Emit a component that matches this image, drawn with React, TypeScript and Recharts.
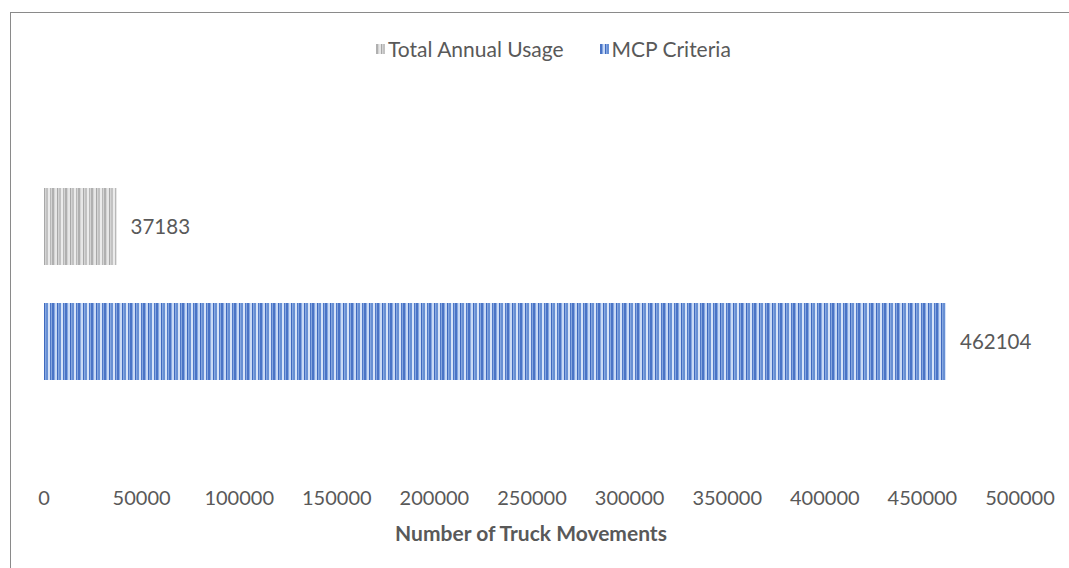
import { BarChart, Bar, XAxis, YAxis, LabelList } from "recharts"

const categories = ["Truck Movements"]
const totalAnnualUsage = [37183]
const mcpCriteria = [462104]
const xTicks = [0, 50000, 100000, 150000, 200000, 250000, 300000, 350000, 400000, 450000, 500000]
const seriesNames = ["Total Annual Usage", "MCP Criteria"]
const seriesFills = ["url(#grayStripes)", "url(#blueStripes)"]

const data = categories.map((name, i) => ({
  name,
  usage: totalAnnualUsage[i],
  mcp: mcpCriteria[i],
}))

const FONT = "Lato, 'Open Sans', sans-serif"
const TEXT = "#595959"

function Patterns() {
  return (
    <svg width={0} height={0} style={{ position: "absolute" }}>
      <defs>
        <pattern id="grayStripes" width={13} height={10} patternUnits="userSpaceOnUse">
          <rect x={0} y={0} width={13} height={10} fill="#d4d4d4" />
          <rect x={0} y={0} width={2} height={10} fill="#b0b0b0" />
          <rect x={3} y={0} width={2} height={10} fill="#e6e6e6" />
          <rect x={5} y={0} width={1} height={10} fill="#a8a8a8" />
          <rect x={7} y={0} width={2} height={10} fill="#c2c2c2" />
          <rect x={9} y={0} width={2} height={10} fill="#ebebeb" />
          <rect x={11} y={0} width={1} height={10} fill="#b8b8b8" />
        </pattern>
        <pattern id="blueStripes" width={13} height={10} patternUnits="userSpaceOnUse">
          <rect x={0} y={0} width={13} height={10} fill="#86a7e0" />
          <rect x={0} y={0} width={2} height={10} fill="#4a74c6" />
          <rect x={3} y={0} width={2} height={10} fill="#c8d9f5" />
          <rect x={5} y={0} width={1} height={10} fill="#3f6abf" />
          <rect x={7} y={0} width={2} height={10} fill="#6890d4" />
          <rect x={9} y={0} width={2} height={10} fill="#d6e3f8" />
          <rect x={11} y={0} width={1} height={10} fill="#4f78c8" />
        </pattern>
      </defs>
    </svg>
  )
}

function TopLegend() {
  return (
    <div
      style={{
        position: "absolute",
        left: 376,
        top: 36,
        display: "flex",
        alignItems: "center",
        fontSize: 21,
        color: TEXT,
        whiteSpace: "nowrap",
      }}
    >
      {seriesNames.map((n, i) => (
        <div key={n} style={{ display: "flex", alignItems: "center", marginRight: i === 0 ? 36 : 0 }}>
          <svg width={9} height={10} style={{ marginRight: 3 }}>
            <rect x={0} y={0} width={9} height={10} fill={seriesFills[i]} />
          </svg>
          <span>{n}</span>
        </div>
      ))}
    </div>
  )
}

export default function App() {
  return (
    <div style={{ position: "absolute", left: 0, top: 0, width: 1069, height: 568, background: "#fff", overflow: "hidden", fontFamily: FONT }}>
      <Patterns />
      <div
        style={{
          position: "absolute",
          left: 10,
          top: 12,
          width: 1100,
          height: 600,
          border: "1.5px solid #8a8a8a",
          boxSizing: "border-box",
        }}
      />
      <div style={{ position: "absolute", left: 0, top: 0 }}>
        <BarChart
          width={1069}
          height={568}
          data={data}
          layout="vertical"
          margin={{ top: 100, right: 49, left: 44, bottom: 70 }}
          barSize={77}
          barGap={38}
        >
          <XAxis
            type="number"
            domain={[0, 500000]}
            ticks={xTicks}
            interval={0}
            axisLine={false}
            tickLine={false}
            tickSize={0}
            tickMargin={23}
            height={30}
            tick={{ fontSize: 20, fill: TEXT, fontFamily: FONT }}
          />
          <YAxis type="category" dataKey="name" hide />
          <Bar dataKey="usage" name={seriesNames[0]} fill={seriesFills[0]} isAnimationActive={false}>
            <LabelList dataKey="usage" position="right" offset={14} fill={TEXT} fontSize={20.5} fontFamily={FONT} />
          </Bar>
          <Bar dataKey="mcp" name={seriesNames[1]} fill={seriesFills[1]} isAnimationActive={false}>
            <LabelList dataKey="mcp" position="right" offset={14} fill={TEXT} fontSize={20.5} fontFamily={FONT} />
          </Bar>
        </BarChart>
      </div>
      <TopLegend />
      <div
        style={{
          position: "absolute",
          left: 0,
          width: 1062,
          top: 520,
          textAlign: "center",
          fontSize: 21,
          fontWeight: 700,
          color: TEXT,
        }}
      >
        Number of Truck Movements
      </div>
    </div>
  )
}
